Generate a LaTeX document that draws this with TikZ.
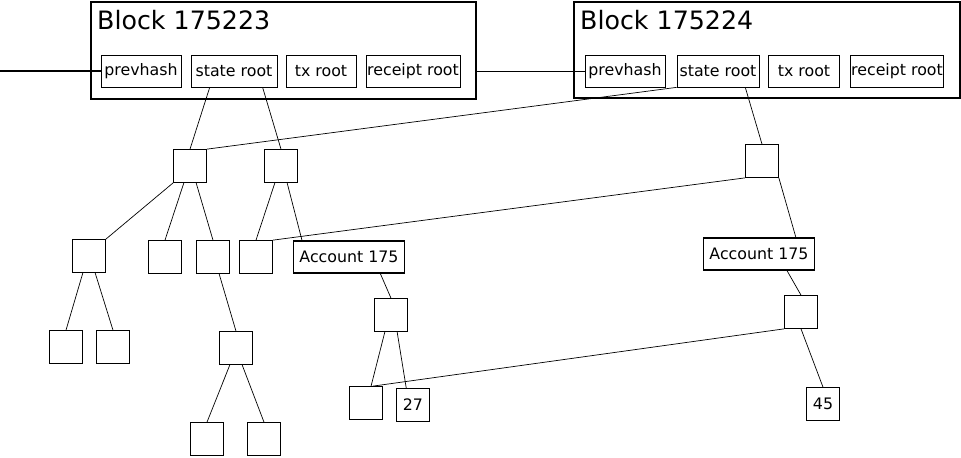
\documentclass[tikz,border=0pt]{standalone}
\usepackage{fontspec}
\setmainfont{DejaVu Sans}
\usetikzlibrary{positioning,calc}
\begin{document}
\begin{tikzpicture}[x=0.02cm,y=-0.02cm]
		\tikzstyle{sq}=[rectangle, draw=black, minimum size=0.66cm, inner sep=0pt]
		\tikzstyle{field}=[rectangle, draw=black, minimum height=0.64cm, inner sep=0pt, font=\small]
		\tikzstyle{acct}=[rectangle, draw=black, semithick, minimum height=0.64cm, minimum width=2.16cm, font=\small]
		\tikzstyle{blk}=[rectangle, draw=black, thick]
		\tikzstyle{connect}=[thin]
		\useasboundingbox (0,0) rectangle (961,457);
		% blocks
		\draw[blk] (91,2) rectangle (476,99);
		\draw[blk] (574,2) rectangle (960,98);
		\node[anchor=west, font=\Large] (t1) at (91,20) {Block 175223};
		\node[anchor=west, font=\Large] (t2) at (574,20) {Block 175224};
		\node[field, minimum width=1.6cm] (ph1) at (141,71) {prevhash};
		\node[field, minimum width=1.72cm] (sr1) at (234,71) {state root};
		\node[field, minimum width=1.4cm] (tx1) at (321,71) {tx root};
		\node[field, minimum width=1.88cm] (rr1) at (413,71) {receipt root};
		\node[field, minimum width=1.6cm] (ph2) at (625,71) {prevhash};
		\node[field, minimum width=1.64cm] (sr2) at (718,71) {state root};
		\node[field, minimum width=1.42cm] (tx2) at (804,71) {tx root};
		\node[field, minimum width=1.86cm] (rr2) at (897,71) {receipt root};
		\coordinate (in) at (0,71);
		\coordinate (b1e) at (476,71);
		% trie nodes
		\node[sq] (a1) at (190,166) {};
		\node[sq] (a2) at (281,166) {};
		\node[sq] (b1) at (762,161) {};
		\node[sq] (c1) at (89,256) {};
		\node[sq] (c2) at (165,257) {};
		\node[sq] (c3) at (213,257) {};
		\node[sq] (c4) at (256,257) {};
		\node[acct] (acc1) at (349,257) {Account 175};
		\node[acct, minimum width=2.2cm] (acc2) at (759,254) {Account 175};
		\node[sq] (d1) at (66,347) {};
		\node[sq] (d2) at (113,347) {};
		\node[sq] (e1) at (236,348) {};
		\node[sq] (f1) at (391,315) {};
		\node[sq] (g1) at (801,312) {};
		\node[sq] (h1) at (366,403) {};
		\node[sq, font=\small] (h2) at (413,405) {27};
		\node[sq, font=\small] (n45) at (823,404) {45};
		\node[sq] (i1) at (207,439) {};
		\node[sq] (i2) at (264,439) {};
		\draw[semithick] (in) -- (ph1);
		\draw[connect] (b1e) -- (ph2);
		\path ($(sr1.south west)!.22!(sr1.south east)$) edge [connect] (a1.north)
		($(sr1.south west)!.83!(sr1.south east)$) edge [connect] (a2.north)
		(sr2.south west) edge [connect] (a1.north east)
		($(sr2.south west)!.83!(sr2.south east)$) edge [connect] (b1.north)
		(a1.south west) edge [connect] (c1.north east)
		(a1.250) edge [connect] (c2.north)
		(a1.290) edge [connect] (c3.north)
		(a2.250) edge [connect] (c4.north)
		(a2.290) edge [connect] ($(acc1.north west)!.08!(acc1.north east)$)
		(b1.south west) edge [connect] (c4.north east)
		(b1.south east) edge [connect] ($(acc2.north west)!.83!(acc2.north east)$)
		(c1.250) edge [connect] (d1.north)
		(c1.290) edge [connect] (d2.north)
		(c3.290) edge [connect] (e1.north)
		($(acc1.south west)!.78!(acc1.south east)$) edge [connect] (f1.north)
		($(acc2.south west)!.75!(acc2.south east)$) edge [connect] (g1.north)
		(f1.250) edge [connect] ($(h1.north)!.3!(h1.north east)$)
		(f1.290) edge [connect] ($(h2.north west)!.3!(h2.north east)$)
		(g1.south west) edge [connect] ($(h1.north)!.4!(h1.north east)$)
		(g1.south) edge [connect] (n45.north)
		(e1.250) edge [connect] (i1.north)
		(e1.290) edge [connect] (i2.north);
\end{tikzpicture}
\end{document}
